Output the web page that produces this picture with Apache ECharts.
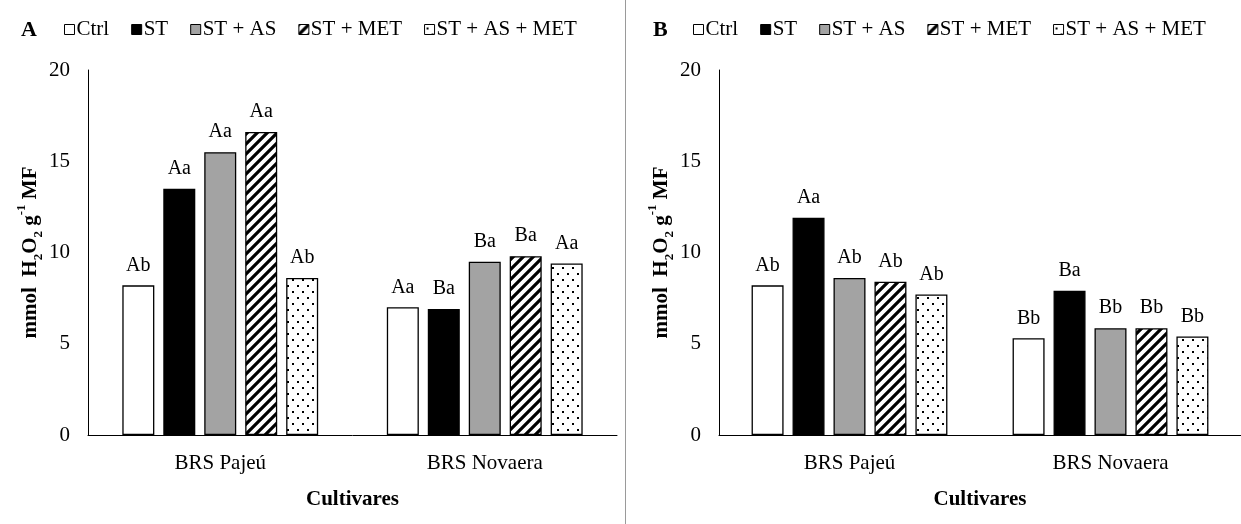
<!DOCTYPE html>
<html>
<head>
<meta charset="utf-8">
<script src="https://cdn.jsdelivr.net/npm/echarts@6/dist/echarts.min.js"></script>
<style>
html,body{margin:0;padding:0;background:#fff;}
#c{width:1241px;height:524px;}
</style>
</head>
<body>
<div id="c"></div>
<script>
// ---- data ----
const categories = ['BRS Pajeú', 'BRS Novaera'];
const seriesNames = ['Ctrl', 'ST', 'ST + AS', 'ST + MET', 'ST + AS + MET'];
const yTicks = [0, 5, 10, 15, 20];

// Panel A values (Ctrl, ST, ST+AS, ST+MET, ST+AS+MET) per cultivar
const A_ctrl = [8.2, 7.0];
const A_st = [13.5, 6.9];
const A_stas = [15.5, 9.5];
const A_stmet = [16.6, 9.8];
const A_stasmet = [8.6, 9.4];
const A_letters = [['Ab', 'Aa'], ['Aa', 'Ba'], ['Aa', 'Ba'], ['Aa', 'Ba'], ['Ab', 'Aa']];

// Panel B values
const B_ctrl = [8.2, 5.3];
const B_st = [11.9, 7.9];
const B_stas = [8.6, 5.85];
const B_stmet = [8.4, 5.85];
const B_stasmet = [7.7, 5.4];
const B_letters = [['Ab', 'Bb'], ['Aa', 'Ba'], ['Ab', 'Bb'], ['Ab', 'Bb'], ['Ab', 'Bb']];

// ---- patterns ----
function hatchCanvas() {
  const c = document.createElement('canvas');
  c.width = 10; c.height = 10;
  const g = c.getContext('2d');
  g.fillStyle = '#fff'; g.fillRect(0, 0, 10, 10);
  g.strokeStyle = '#000'; g.lineWidth = 3.2;
  g.beginPath();
  g.moveTo(-2, 12); g.lineTo(12, -2);
  g.moveTo(-7, 7); g.lineTo(7, -7);
  g.moveTo(3, 17); g.lineTo(17, 3);
  g.stroke();
  return c;
}
function dotCanvas() {
  const c = document.createElement('canvas');
  c.width = 10; c.height = 12;
  const g = c.getContext('2d');
  g.fillStyle = '#fff'; g.fillRect(0, 0, 10, 12);
  g.fillStyle = '#000';
  g.fillRect(2, 3, 2, 2);
  g.fillRect(7, 9, 2, 2);
  return c;
}
const fills = [
  '#ffffff',
  '#000000',
  '#a3a3a3',
  { image: hatchCanvas(), repeat: 'repeat' },
  { image: dotCanvas(), repeat: 'repeat' }
];

const FONT = 'Liberation Serif';
const chart = echarts.init(document.getElementById('c'));

function makeSeries(valuesList, letters, idx) {
  return valuesList.map((vals, i) => ({
    name: seriesNames[i],
    type: 'bar',
    xAxisIndex: idx,
    yAxisIndex: idx,
    data: vals,
    barWidth: 32,
    barGap: '28%',
    itemStyle: { color: fills[i], borderColor: '#000', borderWidth: 1.3 },
    label: {
      show: true,
      position: 'top',
      distance: 10,
      fontFamily: FONT,
      fontSize: 20,
      color: '#000',
      formatter: p => letters[i][p.dataIndex]
    }
  }));
}

const yName = '{b|mmol  H}{s|2}{b|O}{s|2}{b| g}{p|-1}{b| MF}';
const yNameStyle = {
  fontFamily: FONT, color: '#000',
  rich: {
    b: { fontFamily: FONT, fontSize: 21, fontWeight: 'bold', color: '#000', lineHeight: 30 },
    s: { fontFamily: FONT, fontSize: 13, fontWeight: 'bold', color: '#000', verticalAlign: 'bottom', lineHeight: 20 },
    p: { fontFamily: FONT, fontSize: 13, fontWeight: 'bold', color: '#000', verticalAlign: 'top', lineHeight: 20 }
  }
};

function xAxis(gi) {
  return {
    type: 'category', gridIndex: gi, data: categories,
    axisLine: { lineStyle: { color: '#000', width: 1 } },
    axisTick: { show: false },
    axisLabel: { fontFamily: FONT, fontSize: 21, color: '#000', margin: 18 },
    name: 'Cultivares', nameLocation: 'middle', nameGap: 54,
    nameTextStyle: { fontFamily: FONT, fontSize: 21, fontWeight: 'bold', color: '#000' }
  };
}
function yAxis(gi) {
  return {
    type: 'value', gridIndex: gi, min: 0, max: 20, interval: 5,
    axisLine: { show: true, lineStyle: { color: '#000', width: 1 } },
    axisTick: { show: false },
    splitLine: { show: false },
    axisLabel: { fontFamily: FONT, fontSize: 21, color: '#000', margin: 18,
      formatter: v => yTicks.includes(v) ? String(v) : '' },
    name: yName, nameLocation: 'middle', nameGap: 28, nameRotate: 90,
    nameTextStyle: yNameStyle
  };
}

function legend(left) {
  return {
    left: left, top: 14, orient: 'horizontal',
    data: seriesNames,
    icon: 'rect', itemWidth: 10, itemHeight: 10, itemGap: 22,
    selectedMode: false,
    textStyle: { fontFamily: FONT, fontSize: 21, color: '#000', padding: [0, 0, 0, -3] },
    itemStyle: { borderColor: '#000', borderWidth: 1 }
  };
}

chart.setOption({
  backgroundColor: '#fff',
  textStyle: { fontFamily: FONT },
  title: [
    { text: 'A', left: 16, top: 14, textStyle: { fontFamily: FONT, fontSize: 22, fontWeight: 'bold', color: '#000' } },
    { text: 'B', left: 648, top: 14, textStyle: { fontFamily: FONT, fontSize: 22, fontWeight: 'bold', color: '#000' } }
  ],
  legend: [legend(59), legend(688)],
  grid: [
    { left: 88, top: 70, width: 529, height: 365 },
    { left: 719, top: 70, width: 522, height: 365 }
  ],
  xAxis: [xAxis(0), xAxis(1)],
  yAxis: [yAxis(0), yAxis(1)],
  series: [
    ...makeSeries([A_ctrl, A_st, A_stas, A_stmet, A_stasmet], A_letters, 0),
    ...makeSeries([B_ctrl, B_st, B_stas, B_stmet, B_stasmet], B_letters, 1)
  ],
  graphic: [
    { type: 'line', shape: { x1: 625.5, y1: 0, x2: 625.5, y2: 524 }, style: { stroke: '#9a9a9a', lineWidth: 1 } }
  ]
});
</script>
</body>
</html>
